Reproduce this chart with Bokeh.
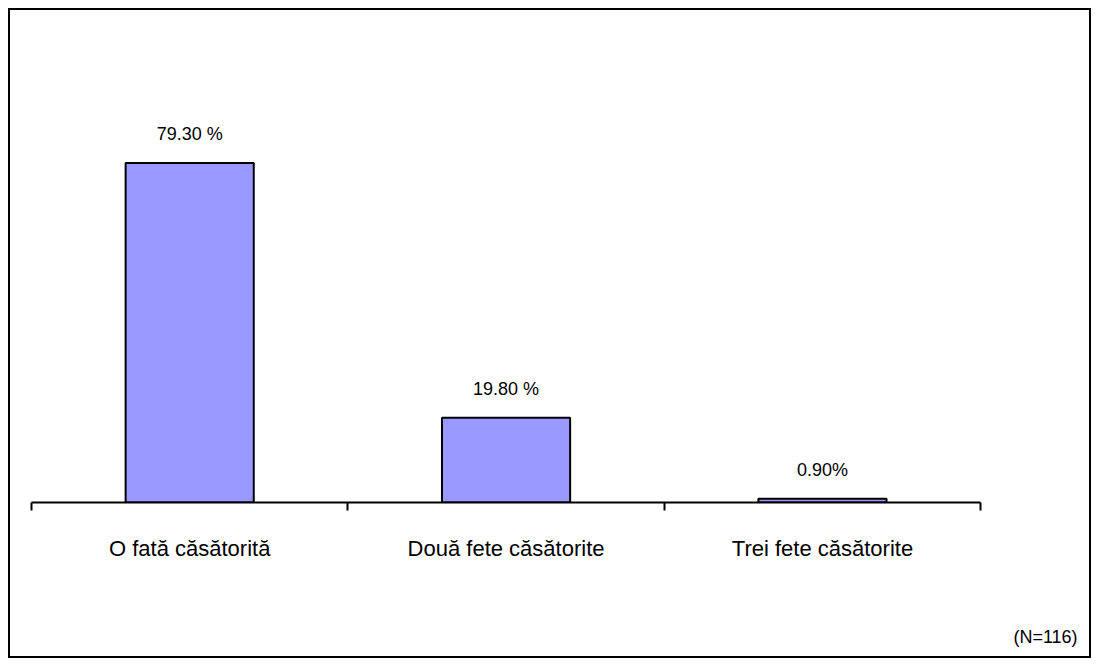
from bokeh.plotting import figure
from bokeh.models import Range1d, FixedTicker, LinearAxis, ColumnDataSource, LabelSet
from bokeh.core.properties import value
from bokeh.embed import file_html
from bokeh.resources import INLINE

categories = ["O fată căsătorită", "Două fete căsătorite", "Trei fete căsătorite"]
values = [79.3, 19.8, 0.9]
value_labels = ["79.30 %", "19.80 %", "0.90%"]
note = "(N=116)"

FONT = "Liberation Sans"
n = len(categories)
right_pad = 0.205  # blank space right of the last category, in category widths

xs = [i + 0.5 for i in range(n)]
source = ColumnDataSource(dict(x=xs, top=values, label=value_labels))

p = figure(width=1083, height=650, output_backend="svg", toolbar_location=None,
           x_range=Range1d(0, n + right_pad), y_range=Range1d(0, 100),
           x_axis_location=None, y_axis_location=None,
           min_border_left=21, min_border_right=48, min_border_top=64, min_border_bottom=158)
p.styles = {"border": "2px solid black", "margin": "8px"}
p.outline_line_color = None
p.xgrid.visible = False
p.ygrid.visible = False
p.background_fill_color = "white"
p.border_fill_color = "white"

p.vbar(x="x", top="top", width=0.405, source=source, fill_color="#9999FF",
       line_color="black", line_width=2)

ticker = FixedTicker(ticks=xs, minor_ticks=list(range(n + 1)))
ax = LinearAxis(ticker=ticker, bounds=(0, n))
ax.major_label_overrides = {x: c for x, c in zip(xs, categories)}
ax.axis_line_color = "black"
ax.axis_line_width = 2
ax.major_tick_out = 0
ax.major_tick_in = 0
ax.minor_tick_out = 8
ax.minor_tick_in = 0
ax.minor_tick_line_color = "black"
ax.minor_tick_line_width = 2
ax.major_label_standoff = 25
ax.major_label_text_font = FONT
ax.major_label_text_font_size = "22px"
ax.major_label_text_color = "black"
ax.axis_label = note
ax.axis_label_align = "end"
ax.axis_label_standoff = 63
ax.axis_label_text_font = FONT
ax.axis_label_text_font_size = "18px"
ax.axis_label_text_font_style = "normal"
ax.axis_label_text_color = "black"
p.add_layout(ax, "below")

labels = LabelSet(x="x", y="top", text="label", source=source, y_offset=23,
                  text_align="center", text_baseline="alphabetic",
                  text_font=value(FONT), text_font_size=value("18px"), text_color="black")
p.add_layout(labels)

open("out.html", "w").write(file_html(p, INLINE))
